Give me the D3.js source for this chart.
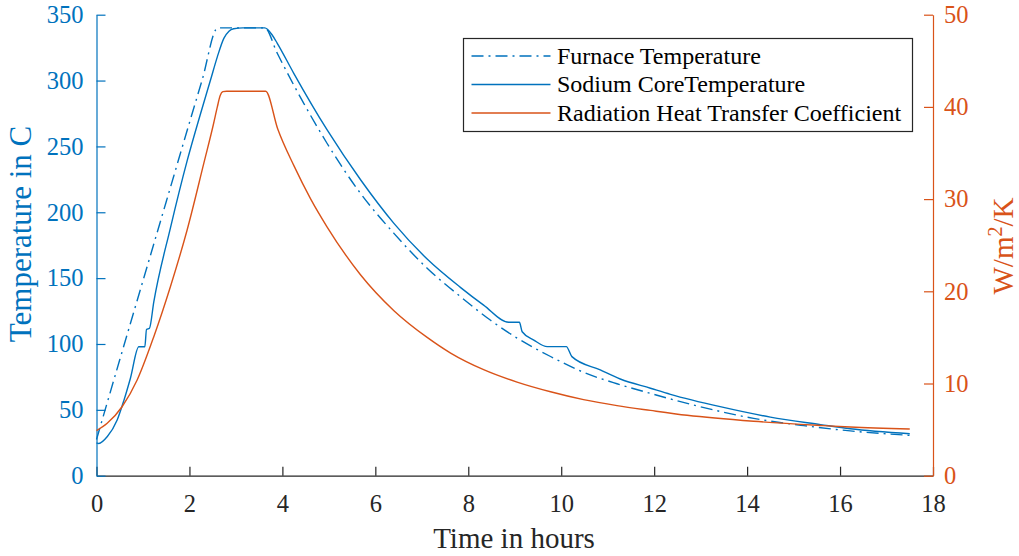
<!DOCTYPE html>
<html>
<head>
<meta charset="utf-8">
<script src="https://cdn.jsdelivr.net/npm/d3@7"></script>
<style>
  body { margin: 0; background: #fff; }
  svg { display: block; font-family: "Liberation Serif", "Times New Roman", serif; }
</style>
</head>
<body>
<div id="chart"></div>
<script>
// furnace temperature (dash-dot)
var furnaceTime = [0, 0.5, 1.0, 1.5, 2.0, 2.27, 2.61, 3.62, 3.89, 4.46, 4.96, 5.68, 6.40, 7.115, 7.83, 8.48, 9.05, 9.77, 10.48, 11.2, 11.92, 12.92, 14.14, 15.22, 16.22, 17.5];
var furnaceTemp = [27.5, 88, 148, 208, 268, 300, 340, 340, 320.7, 282.7, 252.4, 214.4, 184, 157.5, 136, 118, 104.5, 90.5, 78.5, 69.8, 62.5, 53, 43.5, 38, 34, 30.6];

// sodium core temperature (solid)
var sodiumTime = [0, 0.05, 0.23, 0.445, 0.588, 0.73, 0.91, 1.04, 1.076, 1.14, 1.233, 1.59, 1.95, 2.24, 2.45, 2.6, 2.74, 2.85, 2.95, 3.15, 3.62, 3.78, 3.89, 4.245, 4.963, 5.686, 6.40, 7.115, 7.83, 8.33, 8.87, 9.10, 9.16, 9.41, 9.70, 10.11, 10.23, 10.84, 11.27, 11.92, 12.35, 13.42, 14.5, 15.58, 16.22, 17.5];
var sodiumTemp = [25, 24.5, 29.6, 42.3, 57, 74, 97.9, 97.9, 111, 112, 132, 188, 239, 275, 300, 318, 332, 337.5, 339.3, 340, 340, 334.6, 328.3, 305.5, 262.5, 224.5, 191.6, 164.5, 143, 129.5, 116.5, 116.5, 109.3, 103, 98, 98, 90.4, 80.3, 73.4, 66.4, 61.8, 52.4, 44.5, 38.8, 35.6, 31.8];

// radiation heat transfer coefficient (right axis)
var coefTime = [0, 0.23, 0.55, 0.875, 1.233, 1.59, 1.95, 2.31, 2.52, 2.60, 2.66, 2.72, 2.8, 3.64, 3.9, 4.25, 4.61, 4.96, 5.68, 6.40, 7.115, 7.62, 8.33, 9.05, 9.77, 10.48, 11.2, 11.92, 12.71, 14.14, 15.58, 16.22, 17.5];
var coefValue = [4.88, 5.68, 7.48, 10.38, 15.08, 20.5, 26.65, 33.9, 38.2, 40.0, 41.2, 41.65, 41.7, 41.7, 37.6, 33.6, 30.0, 27.0, 21.8, 17.9, 15.0, 13.3, 11.5, 10.15, 9.1, 8.25, 7.6, 7.08, 6.55, 5.9, 5.45, 5.28, 5.07];

var xTicks = [0, 2, 4, 6, 8, 10, 12, 14, 16, 18];
var leftTicks = [0, 50, 100, 150, 200, 250, 300, 350];
var rightTicks = [0, 10, 20, 30, 40, 50];
var legendLabels = ["Furnace Temperature", "Sodium CoreTemperature", "Radiation Heat Transfer Coefficient"];

var blue = "#0072BD", orange = "#D95319", grey = "#262626";
var serif = '"Liberation Serif", "Times New Roman", serif';

var margin = { top: 14.7, right: 86, bottom: 80.3, left: 96.5 },
  width = 1019 - margin.left - margin.right,
  height = 556 - margin.top - margin.bottom;

var svg = d3.select("#chart").append("svg")
  .attr("width", 1019)
  .attr("height", 556);

var g = svg.append("g")
  .attr("transform", "translate(" + margin.left + "," + margin.top + ")");

var x = d3.scaleLinear().domain([0, 18]).range([0, width]);
var yLeft = d3.scaleLinear().domain([0, 350]).range([height, 0]);
var yRight = d3.scaleLinear().domain([0, 50]).range([height, 0]);

// style an axis group: colour of line/ticks and labels, serif font
function styleAxis(sel, color) {
  sel.attr("font-family", serif).attr("font-size", null);
  sel.selectAll("path, line").attr("stroke", color).attr("stroke-width", 1.2);
  sel.selectAll("text")
    .attr("fill", color)
    .style("font-family", serif)
    .style("font-size", "24.5px");
}

// bottom axis first, the coloured axes go on top of it
var xAxis = g.append("g")
  .attr("transform", "translate(0," + height + ")")
  .call(d3.axisBottom(x).tickValues(xTicks).tickSizeInner(-9).tickSizeOuter(0).tickPadding(19));
styleAxis(xAxis, grey);

var leftAxis = g.append("g")
  .call(d3.axisLeft(yLeft).tickValues(leftTicks).tickSizeInner(-9).tickSizeOuter(0).tickPadding(13));
styleAxis(leftAxis, blue);

var rightAxis = g.append("g")
  .attr("transform", "translate(" + width + ",0)")
  .call(d3.axisRight(yRight).tickValues(rightTicks).tickSizeInner(-9).tickSizeOuter(0).tickPadding(11));
styleAxis(rightAxis, orange);

// the three curves
var tempLine = d3.line()
  .x(function (d) { return x(d[0]) })
  .y(function (d) { return yLeft(d[1]) })
  .curve(d3.curveMonotoneX);
var coefLine = d3.line()
  .x(function (d) { return x(d[0]) })
  .y(function (d) { return yRight(d[1]) })
  .curve(d3.curveMonotoneX);

var series = [
  { pts: d3.zip(furnaceTime, furnaceTemp), line: tempLine, color: blue, dash: "12,5,2,5" },
  { pts: d3.zip(sodiumTime, sodiumTemp), line: tempLine, color: blue, dash: null },
  { pts: d3.zip(coefTime, coefValue), line: coefLine, color: orange, dash: null }
];

g.selectAll(".curve")
  .data(series)
  .enter()
  .append("path")
  .attr("class", "curve")
  .attr("d", function (d) { return d.line(d.pts) })
  .attr("fill", "none")
  .attr("stroke", function (d) { return d.color })
  .attr("stroke-width", 1.4)
  .attr("stroke-dasharray", function (d) { return d.dash });

// axis titles
svg.append("text")
  .attr("x", 514)
  .attr("y", 548)
  .attr("text-anchor", "middle")
  .attr("fill", grey)
  .style("font-size", "29px")
  .text("Time in hours");

svg.append("text")
  .attr("transform", "translate(31,234) rotate(-90)")
  .attr("text-anchor", "middle")
  .attr("fill", blue)
  .style("font-size", "31px")
  .text("Temperature in C");

var rightTitle = svg.append("text")
  .attr("transform", "translate(1013,246) rotate(-90)")
  .attr("text-anchor", "middle")
  .attr("fill", orange)
  .style("font-size", "29px");
rightTitle.append("tspan").text("W/m");
rightTitle.append("tspan").attr("dy", -11).style("font-size", "20px").text("2");
rightTitle.append("tspan").attr("dy", 11).text("/K");

// legend
var legend = svg.append("g").attr("transform", "translate(463.5,38.5)");
legend.append("rect")
  .attr("width", 449)
  .attr("height", 93)
  .attr("fill", "#fff")
  .attr("stroke", grey)
  .attr("stroke-width", 1.2);

var rows = legend.selectAll(".row")
  .data(series)
  .enter()
  .append("g")
  .attr("class", "row")
  .attr("transform", function (d, i) { return "translate(0," + (17.5 + i * 28.5) + ")" });
rows.append("line")
  .attr("x1", 8).attr("x2", 87)
  .attr("stroke", function (d) { return d.color })
  .attr("stroke-width", 1.4)
  .attr("stroke-dasharray", function (d) { return d.dash });
rows.append("text")
  .attr("x", 93.5)
  .attr("y", 7.5)
  .attr("fill", "#000")
  .style("font-size", "24px")
  .text(function (d, i) { return legendLabels[i] });
</script>
</body>
</html>
